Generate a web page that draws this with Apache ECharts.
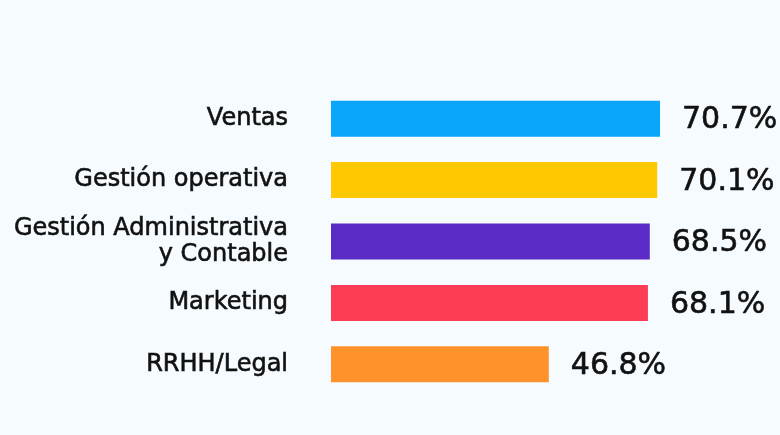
<!DOCTYPE html>
<html>
<head>
<meta charset="utf-8">
<script src="https://cdn.jsdelivr.net/npm/echarts@6/dist/echarts.min.js"></script>
<style>
  html, body { margin: 0; padding: 0; background: #f5fbff; }
  #grafico { width: 780px; height: 435px; }
</style>
</head>
<body>
<div id="grafico"></div>
<script>
// categorias de arriba hacia abajo
var areas = ['Ventas', 'Gestión operativa', 'Gestión Administrativa\ny Contable', 'Marketing', 'RRHH/Legal'];
var valores = [70.7, 70.1, 68.5, 68.1, 46.8];
var colores = ['#0aa6fb', '#ffc800', '#5b2bc6', '#fc3d55', '#ff922a'];

var dom = document.getElementById('grafico');
var myChart = echarts.init(dom);

var option = {
    backgroundColor: '#f5fbff',
    grid: {
        left: 331,
        top: 88,
        width: 372.3,
        height: 307
    },
    xAxis: {
        type: 'value',
        min: 0,
        max: 80,
        show: false
    },
    yAxis: {
        type: 'category',
        inverse: true,
        data: areas,
        axisLine: { show: false },
        axisTick: { show: false },
        axisLabel: {
            margin: 43,
            color: '#111',
            fontSize: 24,
            lineHeight: 26,
            fontFamily: 'DejaVu Sans',
            align: 'right',
            textBorderColor: '#111',
            textBorderWidth: 0.6
        }
    },
    series: [{
        type: 'bar',
        barWidth: 36,
        data: valores.map(function (v, i) {
            return { value: v, itemStyle: { color: colores[i] } };
        }),
        label: {
            show: true,
            position: 'right',
            distance: 22,
            offset: [0, 2],
            color: '#111',
            fontSize: 30,
            fontFamily: 'DejaVu Sans',
            textBorderColor: '#111',
            textBorderWidth: 0.6,
            formatter: function (p) { return p.value.toFixed(1) + '%'; }
        },
        animation: false
    }]
};

myChart.setOption(option, true);
</script>
</body>
</html>
